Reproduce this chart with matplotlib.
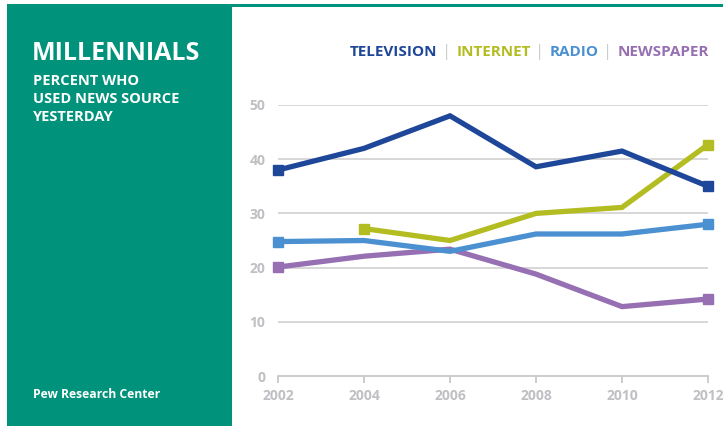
import matplotlib.pyplot as plt
import matplotlib.patches as patches

years = [2002, 2004, 2006, 2008, 2010, 2012]
television = [38, 42, 48, 38.6, 41.5, 35]
internet_years = [2004, 2006, 2008, 2010, 2012]
internet = [27.2, 25, 30, 31.1, 42.7]
radio = [24.8, 25, 23, 26.2, 26.2, 28]
newspaper = [20.1, 22.1, 23.4, 18.8, 12.8, 14.2]
y_ticks = [0, 10, 20, 30, 40, 50]

teal = '#00927a'
c_tv = '#1f4799'
c_net = '#b3bd22'
c_radio = '#4b90d1'
c_news = '#9670b3'
gray_txt = '#bfbfc4'
font = 'Open Sans'

fig = plt.figure(figsize=(7.23, 4.26), dpi=100)
fig.patch.set_facecolor('white')

# green side panel and top rule
fig.patches.append(patches.Rectangle((7/723, 0), 225/723, 1 - 4/426, transform=fig.transFigure,
                                     facecolor=teal, edgecolor='none', zorder=0))
fig.patches.append(patches.Rectangle((200/723, 1 - 7/426), 523/723, 3/426, transform=fig.transFigure,
                                     facecolor=teal, edgecolor='none', zorder=0))

fig.text(32/723, 1 - 54/426, 'MILLENNIALS', color='white', fontsize=18, fontweight='bold',
         family=font, va='center', ha='left')
for i, line in enumerate(['PERCENT WHO', 'USED NEWS SOURCE', 'YESTERDAY']):
    fig.text(33/723, 1 - (81 + 18*i)/426, line, color='white', fontsize=10.5, fontweight='bold',
             family=font, va='center', ha='left')
fig.text(33/723, 1 - 395/426, 'Pew Research Center', color='white', fontsize=8.7, fontweight='bold',
         family=font, va='center', ha='left')

# legend as coloured words
legend = [('TELEVISION', c_tv, 350), ('INTERNET', c_net, 457), ('RADIO', c_radio, 550), ('NEWSPAPER', c_news, 618)]
for name, col, x in legend:
    fig.text(x/723, 1 - 52/426, name, color=col, fontsize=11, fontweight='bold',
             family=font, va='center', ha='left')
for x in [447, 540, 608]:
    fig.text(x/723, 1 - 52/426, '|', color='#cccccc', fontsize=12, family=font, va='center', ha='center')

ax = fig.add_axes([278/723, 1 - 376/426, 430/723, 271/426])
ax.set_xlim(2002, 2012)
ax.set_ylim(0, 50)
for y in y_ticks[1:]:
    ax.axhline(y, color='#d4d4d4', lw=1.3, zorder=1)

kw = dict(lw=3.8, solid_joinstyle='miter', clip_on=False, zorder=3)
ax.plot(years, newspaper, color=c_news, **kw)
ax.plot(years, radio, color=c_radio, **kw)
ax.plot(internet_years, internet, color=c_net, **kw)
ax.plot(years, television, color=c_tv, **kw)
for xs, ys, col in [(years, newspaper, c_news), (years, radio, c_radio),
                    (internet_years, internet, c_net), (years, television, c_tv)]:
    ax.plot([xs[0], xs[-1]], [ys[0], ys[-1]], 's', color=col, ms=7, clip_on=False, zorder=4, lw=0)

for s in ['top', 'right', 'left']:
    ax.spines[s].set_visible(False)
ax.spines['bottom'].set_color('#c8c8c8')
ax.spines['bottom'].set_linewidth(1.3)
ax.set_xticks(years)
ax.set_xticklabels([str(y) for y in years])
ax.set_yticks(y_ticks)
ax.tick_params(axis='x', length=5, width=1.3, color='#c8c8c8', pad=4, labelsize=10,
               labelcolor=gray_txt)
ax.tick_params(axis='y', length=0, pad=9, labelsize=10, labelcolor=gray_txt)
for lab in ax.get_xticklabels() + ax.get_yticklabels():
    lab.set_fontweight('bold')
    lab.set_family(font)
ax.set_facecolor('none')

fig.savefig('out.png', dpi=100)
